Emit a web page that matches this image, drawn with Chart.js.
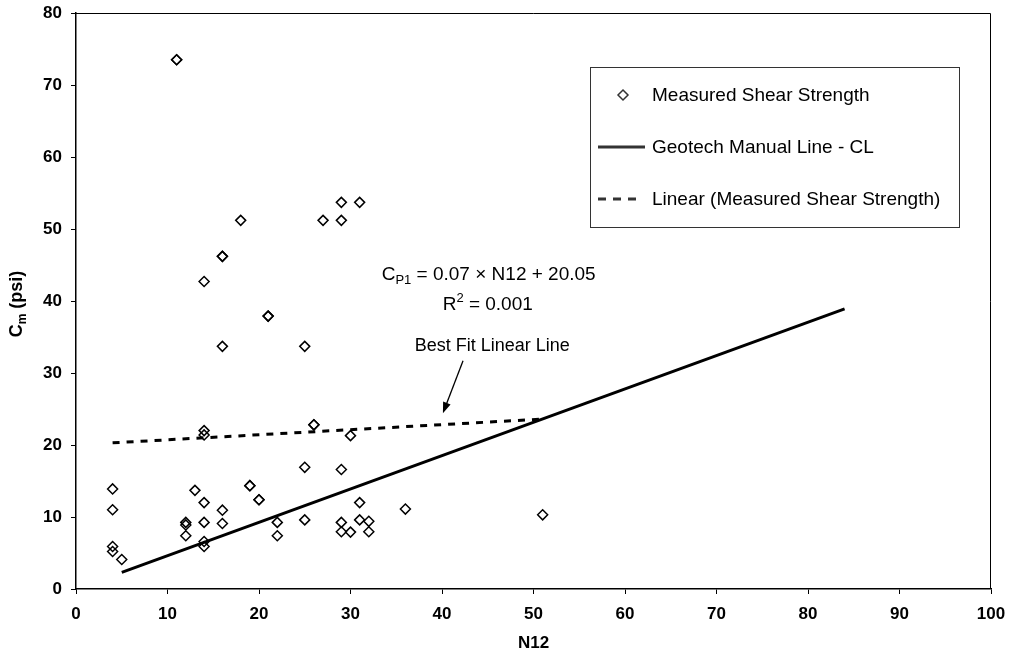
<!DOCTYPE html>
<html>
<head>
<meta charset="utf-8">
<title>Cm vs N12</title>
<script src="https://cdn.jsdelivr.net/npm/chart.js@4.4.1/dist/chart.umd.min.js"></script>
<style>
  html, body { margin: 0; padding: 0; background: #fff; }
  #wrap { width: 1011px; height: 660px; }
</style>
</head>
<body>
<div id="wrap"><canvas id="cmChart"></canvas></div>
<script>
const FONT = '"Liberation Sans", Arial, Helvetica, sans-serif';

// measured shear strength (N12 blow count, Cm in psi)
const measuredN12 = [4, 4, 4, 4, 5, 11, 11, 12, 12, 12, 13, 14, 14, 14, 14, 14, 14, 14,
                     16, 16, 16, 16, 16, 18, 19, 19, 20, 20, 21, 21, 22, 22, 25, 25, 25,
                     26, 26, 27, 29, 29, 29, 29, 29, 30, 30, 31, 31, 31, 32, 32, 36, 51];
const measuredCm  = [13.9, 11.0, 5.9, 5.2, 4.1, 73.5, 73.5, 9.25, 8.9, 7.4, 13.7, 42.7, 22.0, 21.4, 12.0, 9.25, 6.6, 5.9,
                     46.2, 46.2, 33.7, 10.95, 9.1, 51.2, 14.35, 14.35, 12.4, 12.4, 37.9, 37.9, 9.25, 7.4, 33.7, 16.9, 9.6,
                     22.8, 22.8, 51.2, 53.7, 51.2, 16.6, 9.25, 7.95, 21.3, 7.9, 53.7, 12.0, 9.6, 9.4, 7.95, 11.1, 10.3];

// geotech manual line - CL (end points)
const manualN12 = [5, 84];
const manualCm  = [2.3, 38.9];

// linear fit of the measured points (end points)
const fitN12 = [4, 51];
const fitCm  = [20.3, 23.6];

const xTickValues = [0, 10, 20, 30, 40, 50, 60, 70, 80, 90, 100];
const yTickValues = [0, 10, 20, 30, 40, 50, 60, 70, 80];

const legendLabels = ['Measured Shear Strength', 'Geotech Manual Line - CL', 'Linear (Measured Shear Strength)'];

// text notes in data coordinates [N12, Cm]
const eqAt      = [45.1, 42.96];
const r2At      = [45.0, 38.8];
const noteAt    = [45.5, 33.1];
const arrowFrom = [42.3, 31.7];
const arrowTo   = [40.1, 24.4];

const toPoints = (xs, ys) => xs.map((x, i) => ({ x, y: ys[i] }));

// draws runs of text with optional sub/superscript, centred on cx
function drawRich(ctx, parts, cx, baseY, size, weight) {
    const small = Math.round(size * 0.68);
    let total = 0;
    parts.forEach(p => {
        ctx.font = `${weight} ${p.sub || p.sup ? small : size}px ${FONT}`;
        p.w = ctx.measureText(p.t).width;
        total += p.w;
    });
    let x = cx - total / 2;
    parts.forEach(p => {
        ctx.font = `${weight} ${p.sub || p.sup ? small : size}px ${FONT}`;
        let y = baseY;
        if (p.sub) y += size * 0.22;
        if (p.sup) y -= size * 0.38;
        ctx.fillText(p.t, x, y);
        x += p.w;
    });
}

const decorPlugin = {
    id: 'decor',
    beforeDatasetsDraw(chart) {
        const { ctx, chartArea: a } = chart;
        ctx.save();
        ctx.strokeStyle = '#000';
        ctx.lineWidth = 1;
        ctx.beginPath();
        ctx.moveTo(a.left, a.top + 0.5);
        ctx.lineTo(a.right - 0.5, a.top + 0.5);
        ctx.lineTo(a.right - 0.5, a.bottom);
        ctx.stroke();
        ctx.restore();
    },
    afterDraw(chart) {
        const { ctx, scales: { x, y } } = chart;
        ctx.save();
        ctx.fillStyle = '#000';
        ctx.textAlign = 'left';
        ctx.textBaseline = 'alphabetic';

        // regression note
        drawRich(ctx, [{ t: 'C' }, { t: 'P1', sub: true }, { t: ' = 0.07 \u00d7 N12 + 20.05' }],
            x.getPixelForValue(eqAt[0]), y.getPixelForValue(eqAt[1]), 19, 'normal');
        drawRich(ctx, [{ t: 'R' }, { t: '2', sup: true }, { t: ' = 0.001' }],
            x.getPixelForValue(r2At[0]), y.getPixelForValue(r2At[1]), 19, 'normal');
        drawRich(ctx, [{ t: 'Best Fit Linear Line' }],
            x.getPixelForValue(noteAt[0]), y.getPixelForValue(noteAt[1]), 18, 'normal');

        // arrow to the fit line
        const x1 = x.getPixelForValue(arrowFrom[0]), y1 = y.getPixelForValue(arrowFrom[1]);
        const x2 = x.getPixelForValue(arrowTo[0]),   y2 = y.getPixelForValue(arrowTo[1]);
        const ang = Math.atan2(y2 - y1, x2 - x1);
        ctx.strokeStyle = '#000';
        ctx.lineWidth = 1.3;
        ctx.beginPath();
        ctx.moveTo(x1, y1);
        ctx.lineTo(x2 - 8 * Math.cos(ang), y2 - 8 * Math.sin(ang));
        ctx.stroke();
        ctx.beginPath();
        ctx.moveTo(x2, y2);
        ctx.lineTo(x2 - 11 * Math.cos(ang) + 4 * Math.sin(ang), y2 - 11 * Math.sin(ang) - 4 * Math.cos(ang));
        ctx.lineTo(x2 - 11 * Math.cos(ang) - 4 * Math.sin(ang), y2 - 11 * Math.sin(ang) + 4 * Math.cos(ang));
        ctx.closePath();
        ctx.fill();

        // axis titles
        ctx.save();
        ctx.translate(22, 304);
        ctx.rotate(-Math.PI / 2);
        drawRich(ctx, [{ t: 'C' }, { t: 'm', sub: true }, { t: ' (psi)' }], 0, 0, 18, 'bold');
        ctx.restore();
        drawRich(ctx, [{ t: 'N12' }], (x.left + x.right) / 2, 648, 17, 'bold');

        // legend box
        const lx = 590, ly = 67, lw = 369, lh = 160;
        ctx.strokeStyle = '#333';
        ctx.lineWidth = 1;
        ctx.strokeRect(lx + 0.5, ly + 0.5, lw, lh);
        const rows = [95, 147, 199];
        ctx.font = `19px ${FONT}`;
        ctx.textBaseline = 'middle';
        legendLabels.forEach((lab, i) => ctx.fillText(lab, 652, rows[i] + 1));

        ctx.lineWidth = 1.5;
        ctx.beginPath();
        ctx.moveTo(623, rows[0] - 5);
        ctx.lineTo(628, rows[0]);
        ctx.lineTo(623, rows[0] + 5);
        ctx.lineTo(618, rows[0]);
        ctx.closePath();
        ctx.stroke();

        ctx.lineWidth = 3;
        ctx.beginPath();
        ctx.moveTo(598, rows[1]);
        ctx.lineTo(645, rows[1]);
        ctx.stroke();

        ctx.setLineDash([8, 7]);
        ctx.beginPath();
        ctx.moveTo(598, rows[2]);
        ctx.lineTo(643, rows[2]);
        ctx.stroke();
        ctx.restore();
    }
};

const tickFont = { family: FONT, size: 17, weight: 'bold' };

// fixed plot box: no extra room for overhanging end labels
const fitX = s => { s.height = 71; s.paddingLeft = 0; s.paddingRight = 0; };
const fitY = s => { s.width = 76; s.paddingTop = 0; s.paddingBottom = 0; };

new Chart(document.getElementById('cmChart'), {
    type: 'scatter',
    data: {
        datasets: [
            {
                label: legendLabels[0],
                data: toPoints(measuredN12, measuredCm),
                pointStyle: 'rectRot',
                pointRadius: 5,
                pointBorderWidth: 1.5,
                borderColor: '#000',
                backgroundColor: 'rgba(0,0,0,0)'
            },
            {
                label: legendLabels[1],
                data: toPoints(manualN12, manualCm),
                showLine: true,
                pointRadius: 0,
                borderColor: '#000',
                borderWidth: 3
            },
            {
                label: legendLabels[2],
                data: toPoints(fitN12, fitCm),
                showLine: true,
                pointRadius: 0,
                borderColor: '#000',
                borderWidth: 3,
                borderDash: [7, 7]
            }
        ]
    },
    options: {
        responsive: true,
        maintainAspectRatio: false,
        animation: false,
        layout: { padding: { left: 0, top: 13, right: 20, bottom: 0 } },
        plugins: {
            legend: { display: false },
            tooltip: { enabled: false }
        },
        scales: {
            x: {
                type: 'linear',
                min: 0, max: 100,
                afterBuildTicks: s => { s.ticks = xTickValues.map(v => ({ value: v })); },
                afterFit: fitX,
                grid: { drawOnChartArea: false, drawTicks: true, tickLength: 5, color: '#000' },
                border: { color: '#000', width: 1.5 },
                ticks: { color: '#000', font: tickFont, padding: 10, maxRotation: 0 }
            },
            y: {
                type: 'linear',
                min: 0, max: 80,
                afterBuildTicks: s => { s.ticks = yTickValues.map(v => ({ value: v })); },
                afterFit: fitY,
                grid: { drawOnChartArea: false, drawTicks: true, tickLength: 5, color: '#000' },
                border: { color: '#000', width: 1.5 },
                ticks: { color: '#000', font: tickFont, padding: 9 }
            }
        }
    },
    plugins: [decorPlugin]
});
</script>
</body>
</html>
